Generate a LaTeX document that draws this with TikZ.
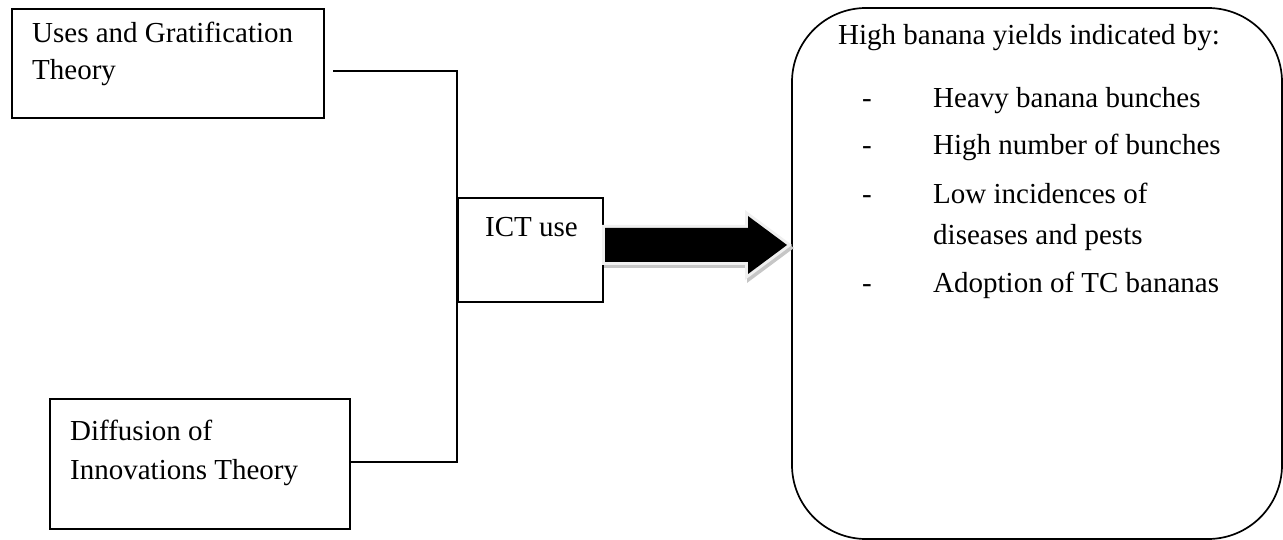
\documentclass[tikz,border=0pt]{standalone}
\usepackage{fontspec}
\setmainfont{Liberation Serif}
\begin{document}
\begin{tikzpicture}[x=1pt,y=-1pt,
  box/.style={draw=black, line width=1.6pt, inner sep=0pt, anchor=north west},
  txt/.style={anchor=base west, inner sep=0pt, font=\fontsize{29}{40}\selectfont},
  conn/.style={draw=black, line width=1.7pt}]
\useasboundingbox (0,0) rectangle (1283,540);
% boxes
\node[box, minimum width=312pt, minimum height=109pt] (ugt) at (11,8) {};
\node[box, minimum width=300pt, minimum height=130pt] (doi) at (49,398) {};
\node[box, minimum width=145pt, minimum height=104pt] (ict) at (457,197) {};
\draw[line width=1.7pt, rounded corners=74pt] (792,8) rectangle (1282,539);
% texts
\node[txt] (t1) at (32,43) {Uses and Gratification};
\node[txt] (t2) at (32,80) {Theory};
\node[txt] (t3) at (70,440) {Diffusion of};
\node[txt] (t4) at (70,479) {Innovations Theory};
\node[txt] (t5) at (485,237) {ICT use};
\node[txt] (h0) at (838,45) {High banana yields indicated by:};
\node[txt] (d1) at (862,108) {-};
\node[txt] (h1) at (933,108) {Heavy banana bunches};
\node[txt] (d2) at (862,155) {-};
\node[txt] (h2) at (933,155) {High number of bunches};
\node[txt] (d3) at (862,204) {-};
\node[txt] (h3) at (933,204) {Low incidences of};
\node[txt] (h4) at (933,245) {diseases and pests};
\node[txt] (d5) at (862,292) {-};
\node[txt] (h5) at (933,292) {Adoption of TC bananas};
% connectors
\coordinate (a1) at (333,71);
\coordinate (a2) at (457,71);
\coordinate (a3) at (457,462);
\draw[conn] (a1) -- (a2) -- (a3) -- (doi.east |- a3);
% block arrow
\def\arrowpath{(605,228) -- (748,228) -- (748,216) -- (787,245) -- (748,274) -- (748,262) -- (605,262) -- cycle}
\draw[gray!45, line width=6pt, line join=miter, shift={(2,3)}] \arrowpath;
\draw[gray!12, line width=6pt, line join=miter] \arrowpath;
\fill[black] \arrowpath;
\end{tikzpicture}
\end{document}
